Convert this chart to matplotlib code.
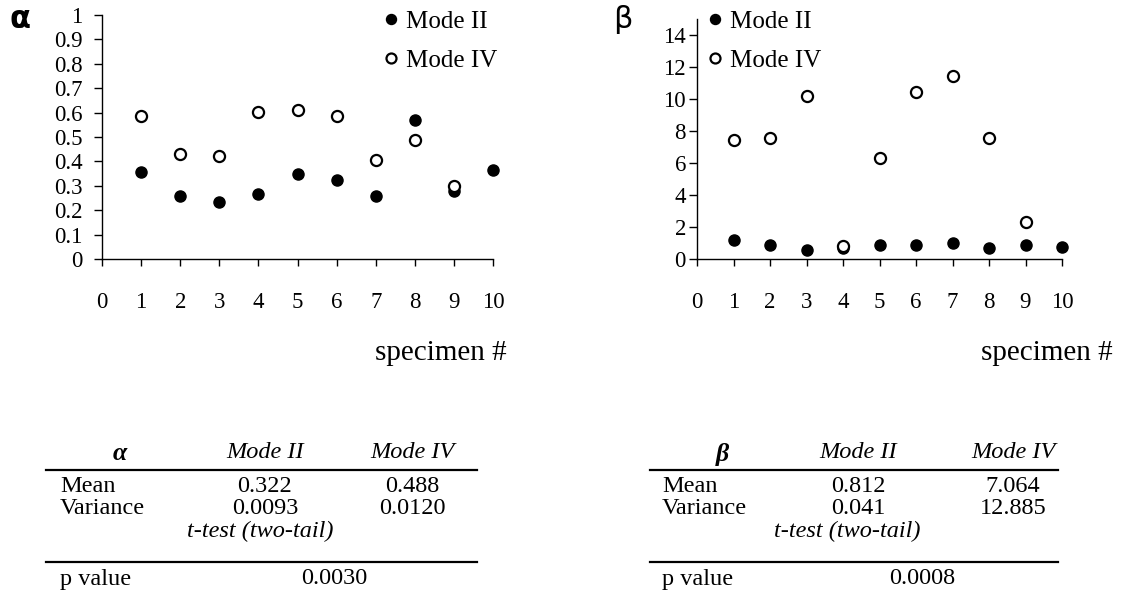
import numpy as np
import matplotlib
matplotlib.use("Agg")
import matplotlib.pyplot as plt
from matplotlib.lines import Line2D

plt.rcParams['font.family'] = ['Liberation Serif', 'DejaVu Serif']

specimens = [1, 2, 3, 4, 5, 6, 7, 8, 9, 10]

# alpha values
alpha_mode2 = [0.357, 0.258, 0.234, 0.266, 0.348, 0.324, 0.258, 0.570, 0.280, 0.365]
alpha_mode4 = [0.586, 0.430, 0.422, 0.602, 0.610, 0.586, 0.405, 0.488, 0.300, np.nan]

# beta values
beta_mode2 = [1.17, 0.90, 0.54, 0.67, 0.90, 0.90, 1.03, 0.67, 0.90, 0.78]
beta_mode4 = [7.43, 7.55, 10.18, 0.80, 6.30, 10.43, 11.43, 7.55, 2.30, np.nan]

# table numbers
alpha_mean = ["0.322", "0.488"]
alpha_var = ["0.0093", "0.0120"]
alpha_p = "0.0030"
beta_mean = ["0.812", "7.064"]
beta_var = ["0.041", "12.885"]
beta_p = "0.0008"

W, H = 1123, 596
fig = plt.figure(figsize=(W / 100, H / 100), dpi=100)


def fx(x):
    return x / W


def fy(y):
    return 1 - y / H


def setup_axes(ax, ylim, yticks, yfmt, ypad):
    ax.set_xlim(0, 10)
    ax.set_ylim(*ylim)
    ax.set_xticks(range(0, 11))
    ax.set_yticks(yticks)
    ax.set_yticklabels([yfmt(v) for v in yticks])
    for s in ['top', 'right']:
        ax.spines[s].set_visible(False)
    for s in ['left', 'bottom']:
        ax.spines[s].set_linewidth(1.0)
    ax.tick_params(axis='x', direction='out', length=5, width=1, pad=19, labelsize=16.5)
    ax.tick_params(axis='y', direction='out', length=6, width=1, pad=ypad, labelsize=16.5)
    ax.patch.set_alpha(0)


def draw_points(ax, m2, m4):
    ax.plot(specimens, m2, 'o', color='black', markersize=8, clip_on=False,
            label='Mode II', zorder=3)
    ax.plot(specimens, m4, 'o', markerfacecolor='white', markeredgecolor='black',
            markeredgewidth=1.6, markersize=8, clip_on=False, label='Mode IV', zorder=4)


# left panel (alpha)
ax1 = fig.add_axes([fx(102), fy(259), fx(493) - fx(102), (259 - 15) / H])
draw_points(ax1, alpha_mode2, alpha_mode4)
setup_axes(ax1, (0, 1), np.round(np.arange(0, 1.01, 0.1), 1),
           lambda v: "0" if v == 0 else ("1" if v == 1 else "%.1f" % v), 8)
leg1 = ax1.legend(loc='upper left', bbox_to_anchor=(fx(363), fy(-2)),
                  bbox_transform=fig.transFigure, frameon=False, fontsize=18,
                  markerscale=0.9, handletextpad=0.0, handlelength=1.2,
                  labelspacing=0.65, borderpad=0)

# right panel (beta)
ax2 = fig.add_axes([fx(697), fy(259), fx(1062) - fx(697), (259 - 19) / H])
draw_points(ax2, beta_mode2, beta_mode4)
setup_axes(ax2, (0, 15), list(range(0, 15, 2)), lambda v: "%d" % v, 2)
leg2 = ax2.legend(loc='upper left', bbox_to_anchor=(fx(687), fy(-2)),
                  bbox_transform=fig.transFigure, frameon=False, fontsize=18,
                  markerscale=0.9, handletextpad=0.0, handlelength=1.2,
                  labelspacing=0.65, borderpad=0)

# panel letters
fig.text(fx(20), fy(19), 'α', family='DejaVu Sans', fontsize=22, weight='bold',
         ha='center', va='center')
fig.text(fx(623), fy(20), 'β', family='DejaVu Sans', fontsize=22,
         ha='center', va='center')

# x axis titles
fig.text(fx(507), fy(353), 'specimen #', fontsize=21, ha='right', va='center')
fig.text(fx(1113), fy(353), 'specimen #', fontsize=21, ha='right', va='center')


def draw_table(x0, x1, xlab, xhead, xc2, xc4, xt, xp, sym, mean, var, p):
    fs = 17.5
    fig.text(fx(xhead), fy(454), sym, fontsize=fs + 1, style='italic',
             weight='bold', ha='center', va='center')
    fig.text(fx(xc2), fy(453), 'Mode II', fontsize=fs, style='italic',
             ha='center', va='center')
    fig.text(fx(xc4), fy(453), 'Mode IV', fontsize=fs, style='italic',
             ha='center', va='center')
    fig.lines.append(Line2D([fx(x0), fx(x1)], [fy(470), fy(470)], color='black',
                            linewidth=1.6, transform=fig.transFigure))
    fig.text(fx(xlab), fy(487), 'Mean', fontsize=fs, ha='left', va='center')
    fig.text(fx(xc2), fy(487), mean[0], fontsize=fs, ha='center', va='center')
    fig.text(fx(xc4), fy(487), mean[1], fontsize=fs, ha='center', va='center')
    fig.text(fx(xlab), fy(508), 'Variance', fontsize=fs, ha='left', va='center')
    fig.text(fx(xc2), fy(508), var[0], fontsize=fs, ha='center', va='center')
    fig.text(fx(xc4), fy(508), var[1], fontsize=fs, ha='center', va='center')
    fig.text(fx(xt), fy(531), 't-test (two-tail)', fontsize=fs, style='italic',
             ha='center', va='center')
    fig.lines.append(Line2D([fx(x0), fx(x1)], [fy(562), fy(562)], color='black',
                            linewidth=1.6, transform=fig.transFigure))
    fig.text(fx(xlab), fy(579), 'p value', fontsize=fs, ha='left', va='center')
    fig.text(fx(xp), fy(579), p, fontsize=fs, ha='center', va='center')


draw_table(46, 477, 60, 120, 265, 412, 260, 334, 'α', alpha_mean, alpha_var, alpha_p)
draw_table(650, 1058, 662, 722, 858, 1013, 847, 922, 'β', beta_mean, beta_var, beta_p)

fig.savefig('out.png', dpi=100)
